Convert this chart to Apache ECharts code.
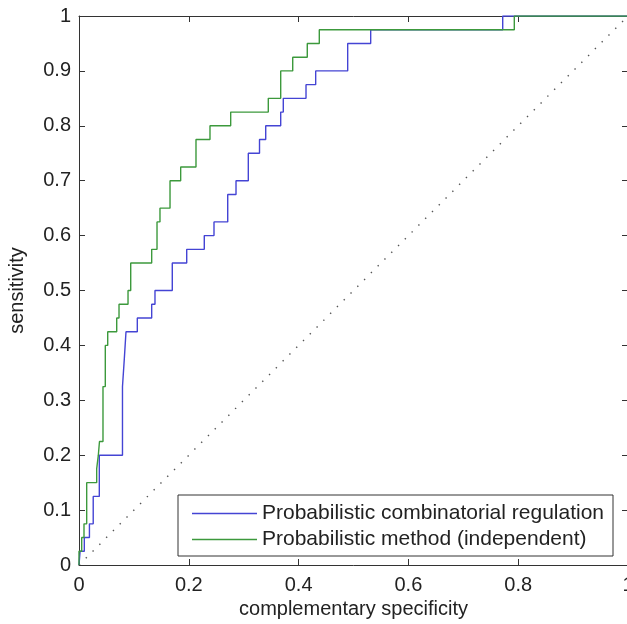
<!DOCTYPE html>
<html><head><meta charset="utf-8">
<script src="https://cdn.jsdelivr.net/npm/echarts@6/dist/echarts.min.js"></script>
<style>html,body{margin:0;padding:0;background:#fff}#c{width:627px;height:624px}</style>
</head><body><div id="c"></div>
<script>
// Data
const seriesNames = ['Probabilistic combinatorial regulation', 'Probabilistic method (independent)'];
const combFpr = [0, 0.002, 0.0097, 0.019, 0.0259, 0.037, 0.0792, 0.0825, 0.0856, 0.1062, 0.1324, 0.1384, 0.1699, 0.1962, 0.2282, 0.2459, 0.2709, 0.286, 0.3084, 0.3288, 0.3401, 0.3674, 0.3721, 0.4135, 0.4311, 0.4894, 0.5313, 0.7718, 1];
const combTpr = [0, 0.025, 0.05, 0.075, 0.125, 0.2, 0.325, 0.375, 0.425, 0.45, 0.475, 0.5, 0.55, 0.575, 0.6, 0.625, 0.675, 0.7, 0.75, 0.775, 0.8, 0.825, 0.85, 0.875, 0.9, 0.95, 0.975, 1, 1];
const indFpr = [0, 0, 0.0049, 0.0091, 0.014, 0.0322, 0.0352, 0.0373, 0.0437, 0.0479, 0.0523, 0.0687, 0.0729, 0.0893, 0.0942, 0.1324, 0.1421, 0.1475, 0.1658, 0.1852, 0.2131, 0.2386, 0.2763, 0.3448, 0.3674, 0.3893, 0.4158, 0.4377, 0.7929, 1];
const indTpr = [0, 0.025, 0.05, 0.075, 0.15, 0.175, 0.2, 0.225, 0.325, 0.4, 0.425, 0.45, 0.475, 0.5, 0.55, 0.575, 0.625, 0.65, 0.7, 0.725, 0.775, 0.8, 0.825, 0.85, 0.9, 0.925, 0.95, 0.975, 1, 1];
const chanceFpr = [0, 1];
const chanceTpr = [0, 1];
const xTicks = [0, 0.2, 0.4, 0.6, 0.8, 1];
const yTicks = [0, 0.1, 0.2, 0.3, 0.4, 0.5, 0.6, 0.7, 0.8, 0.9, 1];

const zip = (a, b) => a.map((v, i) => [v, b[i]]);
const FONT = 'Liberation Sans, Arial, Helvetica, sans-serif';
const AX = '#333';
const fmt = v => String(Math.round(v * 10) / 10);

const chart = echarts.init(document.getElementById('c'), null, {renderer: 'canvas'});
const baseAxis = (pos, ticks, showLabel, margin) => ({
  type: 'value', position: pos, min: 0, max: 1, interval: ticks[1] - ticks[0],
  axisLine: {show: true, onZero: false, lineStyle: {color: AX, width: 1}},
  axisTick: {show: true, inside: true, length: 6, lineStyle: {color: AX, width: 1}},
  axisLabel: {show: showLabel, color: '#222', fontSize: 20, fontFamily: FONT, margin: margin, formatter: fmt, hideOverlap: false},
  splitLine: {show: false}
});
chart.setOption({
  animation: false,
  backgroundColor: '#fff',
  grid: {left: 79, top: 16, right: -1, bottom: 59, containLabel: false, outerBoundsMode: 'none'},
  xAxis: [
    Object.assign(baseAxis('bottom', xTicks, true, 10), {
      name: 'complementary specificity', nameLocation: 'middle', nameGap: 32,
      nameTextStyle: {color: '#222', fontSize: 20, fontFamily: FONT}
    }),
    baseAxis('top', xTicks, false, 8)
  ],
  yAxis: [
    Object.assign(baseAxis('left', yTicks, true, 8), {
      name: 'sensitivity', nameLocation: 'middle', nameGap: 52,
      nameTextStyle: {color: '#222', fontSize: 20, fontFamily: FONT}
    }),
    baseAxis('right', yTicks, false, 8)
  ],
  legend: {
    data: seriesNames, orient: 'vertical', left: 178, top: 495,
    padding: [8, 9, 6, 14], itemGap: 5, itemWidth: 65, itemHeight: 1.4,
    icon: 'rect',
    backgroundColor: '#fff', borderColor: AX, borderWidth: 1, borderRadius: 0,
    textStyle: {color: '#222', fontSize: 21, fontFamily: FONT, lineHeight: 20},
    selectedMode: false
  },
  series: [
    {type: 'line', data: zip(chanceFpr, chanceTpr), symbol: 'none', silent: true,
     lineStyle: {color: '#555', width: 1.4, type: [1.4, 8.2]}, z: 1},
    {name: seriesNames[0], type: 'line', step: 'end', data: zip(combFpr, combTpr), symbol: 'none',
     lineStyle: {color: '#4444d4', width: 1.4}, itemStyle: {color: '#4444d4'}, z: 2},
    {name: seriesNames[1], type: 'line', step: 'end', data: zip(indFpr, indTpr), symbol: 'none',
     lineStyle: {color: '#3c993c', width: 1.4}, itemStyle: {color: '#3c993c'}, z: 3}
  ]
});
</script></body></html>
